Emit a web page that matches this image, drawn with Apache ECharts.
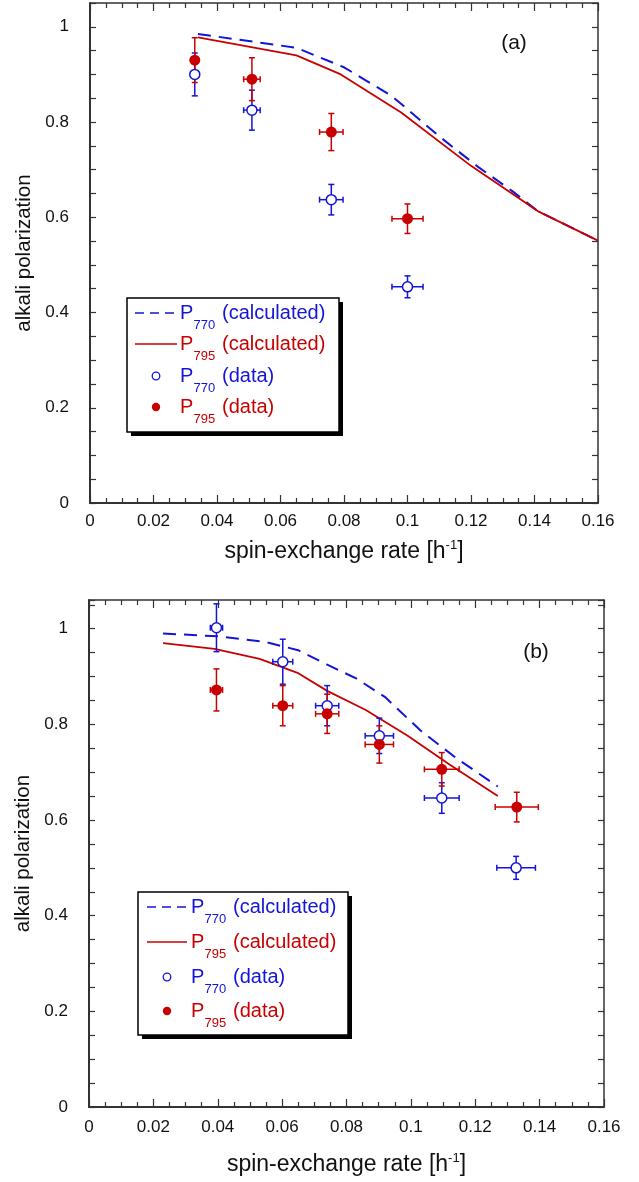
<!DOCTYPE html>
<html>
<head>
<meta charset="utf-8">
<script src="https://cdn.jsdelivr.net/npm/echarts@6/dist/echarts.min.js"></script>
<style>
  body { margin: 0; background: #fff; }
  #chart { width: 639px; height: 1182px; }
</style>
</head>
<body>
<div id="chart"></div>
<script>
// panel (a): calculated curves [rate, polarization]
const aCalc770 = [[0.034, 0.985], [0.065, 0.956], [0.08, 0.915], [0.095, 0.855], [0.11, 0.77], [0.122, 0.707], [0.133, 0.655], [0.141, 0.613], [0.16, 0.551]];
const aCalc795 = [[0.034, 0.978], [0.065, 0.94], [0.079, 0.9], [0.098, 0.82], [0.12, 0.708], [0.141, 0.613], [0.16, 0.551]];
// panel (a): measured [rate, polarization, rate error, polarization error]
const aData770 = [[0.033, 0.9, 0, 0.045], [0.051, 0.825, 0.0026, 0.042], [0.076, 0.637, 0.0037, 0.032], [0.1, 0.454, 0.0049, 0.023]];
const aData795 = [[0.033, 0.93, 0, 0.047], [0.051, 0.89, 0.0026, 0.045], [0.076, 0.779, 0.0037, 0.039], [0.1, 0.597, 0.0049, 0.031]];

// panel (b)
const bCalc770 = [[0.023, 0.99], [0.04, 0.984], [0.055, 0.972], [0.065, 0.955], [0.074, 0.925], [0.083, 0.896], [0.092, 0.857], [0.103, 0.787], [0.114, 0.73], [0.127, 0.67]];
const bCalc795 = [[0.023, 0.97], [0.039, 0.958], [0.053, 0.937], [0.065, 0.907], [0.074, 0.87], [0.086, 0.83], [0.099, 0.776], [0.112, 0.716], [0.127, 0.65]];
const bData770 = [[0.0396, 1.002, 0.0019, 0.05], [0.0602, 0.931, 0.0031, 0.047], [0.074, 0.839, 0.0036, 0.042], [0.0902, 0.776, 0.0044, 0.037], [0.1096, 0.646, 0.0054, 0.032], [0.1327, 0.5, 0.006, 0.024]];
const bData795 = [[0.0396, 0.872, 0.0019, 0.044], [0.0602, 0.839, 0.0031, 0.042], [0.074, 0.822, 0.0036, 0.041], [0.0902, 0.758, 0.0044, 0.039], [0.1096, 0.706, 0.0054, 0.035], [0.1329, 0.627, 0.0067, 0.031]];

const xTicks = { min: 0, max: 0.16, interval: 0.02 };
const yMaxA = 1.05;
const yMaxB = 1.06;

const FONT = "'Liberation Sans', Arial, sans-serif";
const BLUE = "#1414d8";
const RED = "#c80000";
const AXIS = "#333";

const chart = echarts.init(document.getElementById("chart"));

function fmtX(v) {
  return String(+v.toFixed(3));
}
function fmtY(v) {
  const k = v * 5;
  if (Math.abs(k - Math.round(k)) < 1e-6 && v < 1.001) return String(+v.toFixed(2));
  return "";
}

function bottomAxis(grid, nameGap, labelMargin) {
  return {
    type: "value", gridIndex: grid, position: "bottom",
    min: xTicks.min, max: xTicks.max, interval: xTicks.interval,
    axisLine: { show: true, onZero: false, lineStyle: { color: AXIS, width: 2 } },
    axisTick: { show: true, inside: true, length: 8, lineStyle: { color: AXIS, width: 1.2 } },
    minorTick: { show: true, splitNumber: 4, length: 5, lineStyle: { color: AXIS, width: 1.2 } },
    splitLine: { show: false },
    axisLabel: { formatter: fmtX, margin: labelMargin, color: "#111", fontSize: 17, fontFamily: FONT },
    name: "{t|spin-exchange rate [h}{s|-1}{t|]}",
    nameLocation: "middle", nameGap: nameGap,
    nameTextStyle: {
      color: "#111",
      rich: {
        t: { fontSize: 23, fontFamily: FONT, color: "#111", lineHeight: 26 },
        s: { fontSize: 13, fontFamily: FONT, color: "#111", verticalAlign: "top", lineHeight: 26 }
      }
    }
  };
}
function topAxis(grid) {
  return {
    type: "value", gridIndex: grid, position: "top",
    min: xTicks.min, max: xTicks.max, interval: xTicks.interval,
    axisLine: { show: true, onZero: false, lineStyle: { color: AXIS, width: 1.5 } },
    axisTick: { show: true, inside: true, length: 8, lineStyle: { color: AXIS, width: 1.2 } },
    minorTick: { show: true, splitNumber: 4, length: 5, lineStyle: { color: AXIS, width: 1.2 } },
    splitLine: { show: false },
    axisLabel: { show: false }
  };
}
function leftAxis(grid, max) {
  return {
    type: "value", gridIndex: grid, position: "left",
    min: 0, max: max, interval: 0.05,
    axisLine: { show: true, onZero: false, lineStyle: { color: AXIS, width: 2 } },
    axisTick: { show: true, inside: true, length: 6, lineStyle: { color: AXIS, width: 1.2 } },
    splitLine: { show: false },
    axisLabel: { formatter: fmtY, margin: 21, color: "#111", fontSize: 17, fontFamily: FONT },
    name: "alkali polarization", nameLocation: "middle", nameGap: 49, nameRotate: 90,
    nameTextStyle: { fontSize: 20.5, fontFamily: FONT, color: "#111" }
  };
}
function rightAxis(grid, max) {
  return {
    type: "value", gridIndex: grid, position: "right",
    min: 0, max: max, interval: 0.05,
    axisLine: { show: true, onZero: false, lineStyle: { color: AXIS, width: 1.5 } },
    axisTick: { show: true, inside: true, length: 6, lineStyle: { color: AXIS, width: 1.2 } },
    splitLine: { show: false },
    axisLabel: { show: false }
  };
}

function errorRender(color) {
  return function (params, api) {
    const x = api.value(0), y = api.value(1), dx = api.value(2), dy = api.value(3);
    const c = api.coord([x, y]);
    const st = { stroke: color, lineWidth: 1.5 };
    const cap = 3;
    const out = [];
    if (dy > 0) {
      const t = api.coord([x, y + dy]);
      const b = api.coord([x, y - dy]);
      out.push({ type: "line", shape: { x1: c[0], y1: t[1], x2: c[0], y2: b[1] }, style: st });
      out.push({ type: "line", shape: { x1: c[0] - cap, y1: t[1], x2: c[0] + cap, y2: t[1] }, style: st });
      out.push({ type: "line", shape: { x1: c[0] - cap, y1: b[1], x2: c[0] + cap, y2: b[1] }, style: st });
    }
    if (dx > 0) {
      const l = api.coord([x - dx, y]);
      const r = api.coord([x + dx, y]);
      out.push({ type: "line", shape: { x1: l[0], y1: c[1], x2: r[0], y2: c[1] }, style: st });
      out.push({ type: "line", shape: { x1: l[0], y1: c[1] - cap, x2: l[0], y2: c[1] + cap }, style: st });
      out.push({ type: "line", shape: { x1: r[0], y1: c[1] - cap, x2: r[0], y2: c[1] + cap }, style: st });
    }
    return { type: "group", children: out };
  };
}

function panelSeries(xi, yi, calc770, calc795, data770, data795) {
  return [
    { type: "line", xAxisIndex: xi, yAxisIndex: yi, data: calc770, showSymbol: false, z: 2,
      lineStyle: { color: BLUE, width: 2, type: [13, 8] } },
    { type: "line", xAxisIndex: xi, yAxisIndex: yi, data: calc795, showSymbol: false, z: 2,
      lineStyle: { color: RED, width: 1.8 } },
    { type: "custom", xAxisIndex: xi, yAxisIndex: yi, data: data770, encode: { x: 0, y: 1 }, z: 3,
      renderItem: errorRender(BLUE) },
    { type: "custom", xAxisIndex: xi, yAxisIndex: yi, data: data795, encode: { x: 0, y: 1 }, z: 3,
      renderItem: errorRender(RED) },
    { type: "scatter", xAxisIndex: xi, yAxisIndex: yi, data: data770.map(d => [d[0], d[1]]), z: 4,
      symbol: "circle", symbolSize: 10,
      itemStyle: { color: "#fff", borderColor: BLUE, borderWidth: 1.5, opacity: 1 } },
    { type: "scatter", xAxisIndex: xi, yAxisIndex: yi, data: data795.map(d => [d[0], d[1]]), z: 5,
      symbol: "circle", symbolSize: 11,
      itemStyle: { color: RED, opacity: 1 } }
  ];
}

// legend box drawn by hand, like the original figure
function legendBox(left, top, right, bottom, lineX1, lineX2, markX, pX, calcX, rows) {
  const els = [
    { type: "rect", shape: { x: left + 4, y: top + 4, width: right - left, height: bottom - top },
      style: { fill: "#000" }, z: 10 },
    { type: "rect", shape: { x: left, y: top, width: right - left, height: bottom - top },
      style: { fill: "#fff", stroke: "#000", lineWidth: 1.5 }, z: 11 }
  ];
  const labels = [
    ["770", "(calculated)", BLUE], ["795", "(calculated)", RED],
    ["770", "(data)", BLUE], ["795", "(data)", RED]
  ];
  rows.forEach((y, i) => {
    const [sub, txt, col] = labels[i];
    if (i === 0) {
      els.push({ type: "line", shape: { x1: lineX1, y1: y, x2: lineX2, y2: y },
        style: { stroke: BLUE, lineWidth: 1.5, lineDash: [9, 6] }, z: 12 });
    } else if (i === 1) {
      els.push({ type: "line", shape: { x1: lineX1, y1: y, x2: lineX2, y2: y },
        style: { stroke: RED, lineWidth: 1.5 }, z: 12 });
    } else if (i === 2) {
      els.push({ type: "circle", shape: { cx: markX, cy: y, r: 3.8 },
        style: { fill: "#fff", stroke: BLUE, lineWidth: 1.3 }, z: 12 });
    } else {
      els.push({ type: "circle", shape: { cx: markX, cy: y, r: 4.2 },
        style: { fill: RED }, z: 12 });
    }
    els.push({ type: "text", z: 12, style: { x: pX, y: y, text: "P", fill: col,
      font: "20px " + FONT, align: "left", verticalAlign: "middle", textAlign: "left", textVerticalAlign: "middle" } });
    els.push({ type: "text", z: 12, style: { x: pX + 13.5, y: y + 12, text: sub, fill: col,
      font: "13px " + FONT, align: "left", verticalAlign: "middle", textAlign: "left", textVerticalAlign: "middle" } });
    els.push({ type: "text", z: 12, style: { x: calcX, y: y, text: txt, fill: col,
      font: "20px " + FONT, align: "left", verticalAlign: "middle", textAlign: "left", textVerticalAlign: "middle" } });
  });
  return els;
}

function panelTag(x, y, text) {
  return { type: "text", z: 12, style: { x: x, y: y, text: text, fill: "#111",
    font: "21px " + FONT, align: "center", verticalAlign: "middle", textAlign: "center", textVerticalAlign: "middle" } };
}

const option = {
  backgroundColor: "#fff",
  animation: false,
  grid: [
    { left: 90, top: 3, width: 508, height: 500 },
    { left: 89, top: 600, width: 515, height: 507 }
  ],
  xAxis: [bottomAxis(0, 36, 10), topAxis(0), bottomAxis(1, 45, 12), topAxis(1)],
  yAxis: [leftAxis(0, yMaxA), rightAxis(0, yMaxA), leftAxis(1, yMaxB), rightAxis(1, yMaxB)],
  series: [
    ...panelSeries(0, 0, aCalc770, aCalc795, aData770, aData795),
    ...panelSeries(2, 2, bCalc770, bCalc795, bData770, bData795)
  ],
  graphic: [
    ...legendBox(127, 298, 339, 432, 135, 177, 156, 180, 222, [313, 344, 376, 407]),
    ...legendBox(138, 892, 348, 1035, 147, 187, 167, 191, 233, [907, 942, 977, 1011]),
    panelTag(514, 43, "(a)"),
    panelTag(536, 652, "(b)")
  ]
};
chart.setOption(option);
</script>
</body>
</html>
